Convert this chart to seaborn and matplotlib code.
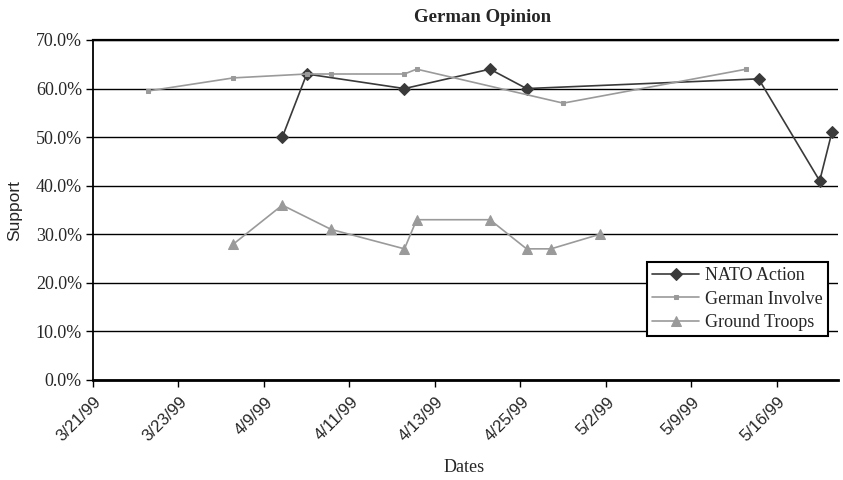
import numpy as np
import pandas as pd
import matplotlib
matplotlib.use("Agg")
import matplotlib.pyplot as plt
import seaborn as sns
from matplotlib.ticker import PercentFormatter, FixedLocator
from matplotlib.font_manager import FontProperties

# Category axis: one slot per poll date in the source sheet, labelled every 7th slot
n_categories = 61
tick_every = 7
tick_dates = ["3/21/99", "3/23/99", "4/9/99", "4/11/99", "4/13/99",
              "4/25/99", "5/2/99", "5/9/99", "5/16/99"]

# Survey results (percent) at their category slot
nato_idx = [15, 17, 25, 32, 35, 54, 59, 60]
nato_val = [50, 63, 60, 64, 60, 62, 41, 51]

german_idx = [4, 11, 17, 19, 25, 26, 38, 53]
german_val = [59.5, 62.2, 63, 63, 63, 64, 57, 64]

troops_idx = [11, 15, 19, 25, 26, 32, 35, 37, 41]
troops_val = [28, 36, 31, 27, 33, 33, 27, 27, 30]

SERIF = "Liberation Serif"
SANS = "Liberation Sans"

sns.set_theme(style="white")
plt.rcParams["font.family"] = [SERIF, "DejaVu Serif"]

sans12 = FontProperties(family=[SANS, "DejaVu Sans"], size=12)

fig = plt.figure(figsize=(8.43, 4.80), dpi=100)
ax = fig.add_axes([93 / 843, 1 - 380 / 480, (838 - 93) / 843, (380 - 40) / 480])

series = [
    ("NATO Action", nato_idx, nato_val, "#3a3a3a", "D", 6.0),
    ("German Involve", german_idx, german_val, "#9a9a9a", "s", 2.6),
    ("Ground Troops", troops_idx, troops_val, "#9a9a9a", "^", 7.5),
]

for name, idx, val, col, mk, ms in series:
    df = pd.DataFrame({"slot": np.asarray(idx) + 0.5,
                       "support": np.asarray(val) / 100.0})
    sns.lineplot(data=df, x="slot", y="support", ax=ax, color=col,
                 marker=mk, markersize=ms, markeredgecolor=col,
                 markerfacecolor=col, linewidth=1.2, label=name,
                 estimator=None, sort=True)

ax.set_xlim(0, n_categories)
ax.set_ylim(0, 0.70)

# y axis
ax.set_yticks(np.arange(0, 0.71, 0.10))
ax.yaxis.set_major_formatter(PercentFormatter(1.0, decimals=1))
ax.yaxis.grid(True, color="black", linewidth=1.0)
ax.set_axisbelow(True)
ax.tick_params(axis="y", which="major", direction="out", length=5, width=1,
               color="black", labelsize=13, pad=3, left=True)

# x axis: tick marks on slot boundaries, labels on the first slot of each group
bounds = np.arange(0, n_categories, tick_every)
ax.xaxis.set_major_locator(FixedLocator(bounds))
ax.set_xticklabels([])
ax.tick_params(axis="x", which="major", direction="out", length=5, width=1,
               color="black", bottom=True)
ax.set_xticks(bounds + 0.5, minor=True)
ax.set_xticklabels(tick_dates, minor=True, rotation=45, ha="right",
                   va="center", rotation_mode="anchor",
                   fontproperties=sans12)
ax.tick_params(axis="x", which="minor", length=0, pad=14)

ax.spines["right"].set_visible(False)
ax.spines["top"].set_color("black")
ax.spines["top"].set_linewidth(1.6)
ax.spines["left"].set_color("black")
ax.spines["left"].set_linewidth(1.3)
ax.spines["bottom"].set_color("black")
ax.spines["bottom"].set_linewidth(2.0)

ax.set_xlabel("")
ax.set_ylabel("")

fig.text(483 / 843, 1 - 18 / 480, "German Opinion", ha="center", va="center",
         fontsize=13.5, fontweight="bold")
fig.text(464 / 843, 1 - 467 / 480, "Dates", ha="center", va="center",
         fontsize=13)
fig.text(15 / 843, 1 - 211 / 480, "Support", ha="center", va="center",
         rotation=90, fontproperties=FontProperties(family=[SANS, "DejaVu Sans"], size=12.5))

leg = ax.legend(loc="lower right", bbox_to_anchor=(0.9865, 0.128),
                frameon=True, fancybox=False, fontsize=13,
                handlelength=2.6, handletextpad=0.3, labelspacing=0.35,
                borderpad=0.3, borderaxespad=0.0)
leg.get_frame().set_edgecolor("black")
leg.get_frame().set_linewidth(1.5)
leg.get_frame().set_facecolor("white")
leg.get_frame().set_alpha(1.0)

fig.savefig("out.png", dpi=100)
